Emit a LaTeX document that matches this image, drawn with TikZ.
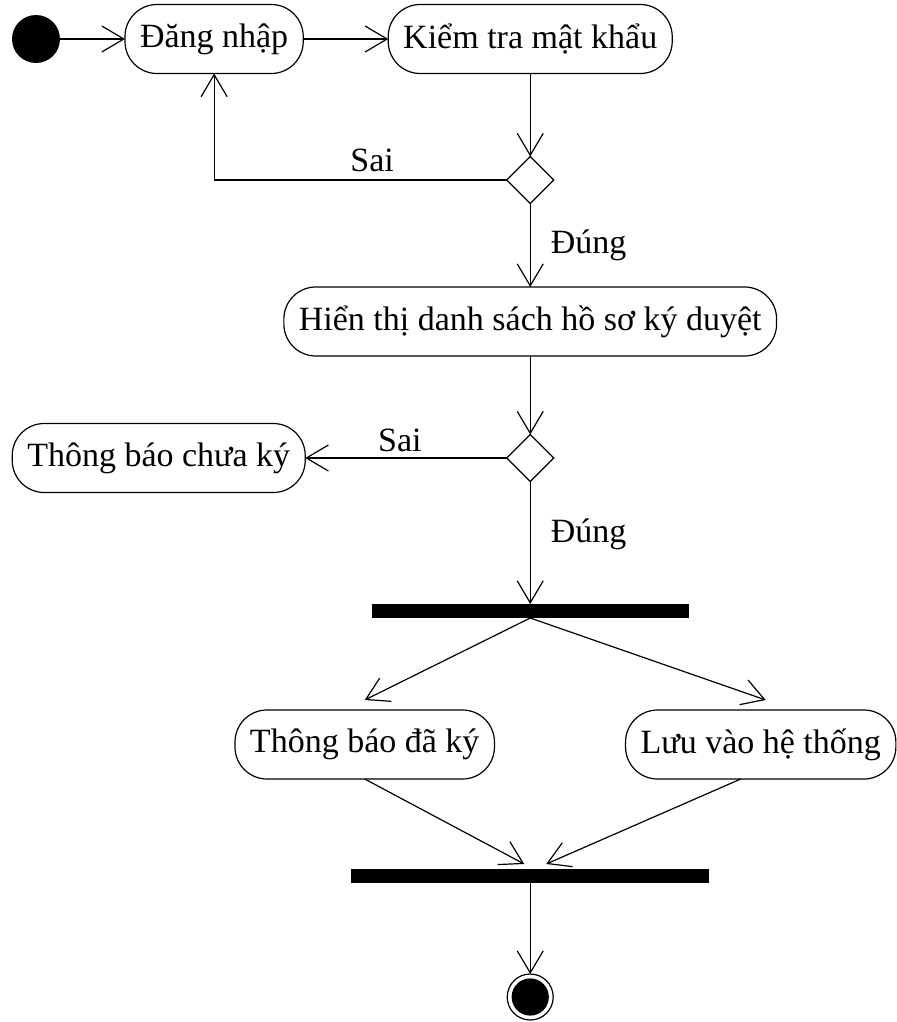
\documentclass[tikz,border=0pt]{standalone}
\usepackage{fontspec}
\setmainfont{Liberation Serif}
\usetikzlibrary{positioning,arrows.meta,shapes.geometric}

\begin{document}
\begin{tikzpicture}[font=\fontsize{17}{20}\selectfont, line width=0.6pt,
  act/.style={draw, rounded corners=16pt, minimum height=34.5pt, inner xsep=7.5pt, inner ysep=0pt, outer sep=0pt},
  choice/.style={draw, diamond, minimum size=23.5pt, inner sep=0pt, outer sep=0pt},
  bar/.style={fill=black, minimum height=7pt, inner sep=0pt, outer sep=0pt},
  startdot/.style={circle, fill=black, minimum size=24pt, inner sep=0pt, outer sep=0pt},
  enddot/.style={circle, draw, minimum size=23pt, inner sep=0pt, outer sep=0pt, path picture={\fill (path picture bounding box.center) circle (9.3pt);}},
  lbl/.style={inner sep=2pt},
  arr/.style={-{Straight Barb[length=11pt,width=13pt]}}]
\useasboundingbox (0pt,0pt) rectangle (448.5pt,-511pt);

\node[startdot] (start) at (18pt,-19.5pt) {};
\node[act, right=32.5pt of start] (login) {Đăng nhập};
\node[act, right=42.5pt of login] (check) {Kiểm tra mật khẩu};
\draw[arr] (start) -- (login);
\draw[arr] (login) -- (check);

\node[choice, below=41.5pt of check] (dec1) {};
\draw[arr] (check.south) -- (dec1.north);
\draw[arr] (dec1.west) -| node[lbl, pos=0.23, above=2pt] (no1) {Sai} (login.south);

\node[act, below=41.75pt of dec1] (list) {Hiển thị danh sách hồ sơ ký duyệt};
\draw[arr] (dec1.south) -- node[lbl, right=8pt] (yes1) {Đúng} (list.north);

\node[choice, below=39.25pt of list] (dec2) {};
\draw[arr] (list.south) -- (dec2.north);
\node[act, left=100.75pt of dec2] (unsigned) {Thông báo chưa ký};
\draw[arr] (dec2.west) -- node[lbl, pos=0.53, above=1pt] (no2) {Sai} (unsigned.east);

% fork / join bars
\node[bar, minimum width=158.5pt, below=61.25pt of dec2] (fork) {};
\draw[arr] (dec2.south) -- node[lbl, pos=0.43, right=8pt] (yes2) {Đúng} (fork.north);

\node[act, below=46pt of fork, xshift=-82.75pt] (signed) {Thông báo đã ký};
\node[act, below=46pt of fork, xshift=115.25pt] (save) {Lưu vào hệ thống};
\draw[arr] (fork.south) -- ([yshift=5pt]signed.north);
\draw[arr] (fork.south) -- ([xshift=2.5pt, yshift=5pt]save.north);

\node[bar, minimum width=179pt, below=45pt of signed.south -| fork] (join) {};
\draw[arr] (signed.south) -- ([xshift=-3pt, yshift=2.5pt]join.north);
\draw[arr] ([xshift=-10pt]save.south) -- ([xshift=8pt, yshift=2.5pt]join.north);

\node[enddot, below=45.5pt of join] (final) {};
\draw[arr] (join.south) -- (final.north);
\end{tikzpicture}
\end{document}
